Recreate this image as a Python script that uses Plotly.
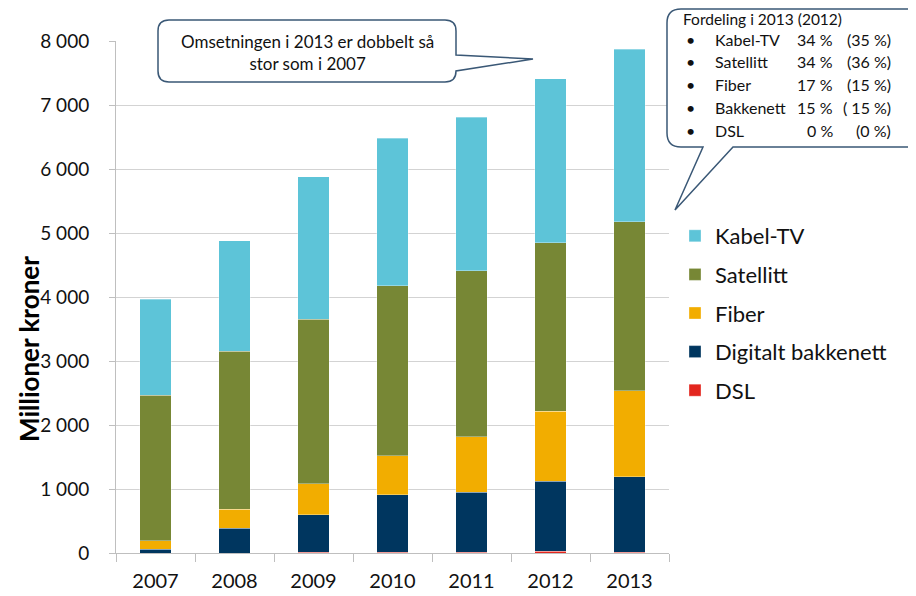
import plotly.graph_objects as go

# ---------------- data ----------------
years = ["2007", "2008", "2009", "2010", "2011", "2012", "2013"]
dsl = [0, 0, 8, 8, 15, 25, 15]
bakkenett = [58, 386, 586, 903, 938, 1100, 1178]
fiber = [132, 297, 489, 610, 865, 1089, 1343]
satellitt = [2274, 2473, 2573, 2656, 2593, 2635, 2636]
kabel_tv = [1500, 1724, 2224, 2302, 2396, 2562, 2698]

series_names = ["DSL", "Digitalt bakkenett", "Fiber", "Satellitt", "Kabel-TV"]
series_values = [dsl, bakkenett, fiber, satellitt, kabel_tv]
series_colors = ["#E3261E", "#00365F", "#F2AD00", "#778735", "#5DC4D8"]
legend_ranks = [5, 4, 3, 2, 1]

ytick_vals = [0, 1000, 2000, 3000, 4000, 5000, 6000, 7000, 8000]
ytick_text = ["0", "1 000", "2 000", "3 000", "4 000", "5 000", "6 000", "7 000", "8 000"]

y_title = "Millioner kroner"
note_text = "Omsetningen i 2013 er dobbelt så<br>stor som i 2007"
fordeling_title = "Fordeling i 2013 (2012)"
fordeling_names = ["Kabel-TV", "Satellitt", "Fiber", "Bakkenett", "DSL"]
share_2013 = ["34 %", "34 %", "17 %", "15 %", "0 %"]
share_2012 = ["(35 %)", "(36 %)", "(15 %)", "( 15 %)", "(0 %)"]

# ---------------- layout geometry (page pixels) ----------------
OFF = 8                      # default body margin of the html page
W, H = 916 - OFF, 596 - OFF  # figure size
L, R, T, B = 116, 669, 41, 553   # plot area in page pixels
FONT = "Lato, 'Open Sans', sans-serif"
EDGE = "#3A5876"


def px(x):
    return (x - L) / (R - L)


def py(y):
    return (B - y) / (B - T)


def path_from(points):
    out = []
    for cmd, pts in points:
        coords = " ".join(f"{px(x):.5f},{py(y):.5f}" for x, y in pts)
        out.append(f"{cmd} {coords}")
    return " ".join(out) + " Z"


fig = go.Figure()
for name, vals, col, rk in zip(series_names, series_values, series_colors, legend_ranks):
    fig.add_trace(go.Bar(
        x=years, y=vals, name=name, legendgroup=name, legendrank=rk,
        marker=dict(color=col, line=dict(width=0.6, color="rgba(255,255,255,0.55)")),
    ))

# small callout
x0, x1, y0, y1, r = 158, 456, 20, 82, 11
small = path_from([
    ("M", [(x0 + r, y0)]), ("L", [(x1 - r, y0)]), ("Q", [(x1, y0), (x1, y0 + r)]),
    ("L", [(x1, 55)]), ("L", [(533, 59)]), ("L", [(x1, 71)]),
    ("Q", [(x1, y1), (x1 - r, y1)]), ("L", [(x0 + r, y1)]),
    ("Q", [(x0, y1), (x0, y1 - r)]), ("L", [(x0, y0 + r)]),
    ("Q", [(x0, y0), (x0 + r, y0)]),
])
# big callout
bx0, bx1, by0, by1, br = 667, 945, 9, 147, 14
big = path_from([
    ("M", [(bx0 + br, by0)]), ("L", [(bx1 - br, by0)]), ("Q", [(bx1, by0), (bx1, by0 + br)]),
    ("L", [(bx1, by1 - br)]), ("Q", [(bx1, by1), (bx1 - br, by1)]),
    ("L", [(733, by1)]), ("L", [(675, 210)]), ("L", [(703, by1)]),
    ("L", [(bx0 + br, by1)]), ("Q", [(bx0, by1), (bx0, by1 - br)]),
    ("L", [(bx0, by0 + br)]), ("Q", [(bx0, by0), (bx0 + br, by0)]),
])
shapes = [
    dict(type="path", path=small, xref="paper", yref="paper", fillcolor="white",
         line=dict(color=EDGE, width=1.5), layer="above"),
    dict(type="path", path=big, xref="paper", yref="paper", fillcolor="white",
         line=dict(color=EDGE, width=1.5), layer="above"),
]

annotations = [
    dict(text=note_text, x=px(307), y=py(52), xref="paper", yref="paper",
         xanchor="center", yanchor="middle", showarrow=False, align="center",
         font=dict(family=FONT, size=17, color="#111")),
    dict(text=f"<b>{y_title}</b>", x=px(29), y=py(349), xref="paper", yref="paper",
         xanchor="center", yanchor="middle", showarrow=False, textangle=-90,
         font=dict(family=FONT, size=26, color="#000")),
    dict(text=fordeling_title, x=px(682), y=py(19), xref="paper", yref="paper",
         xanchor="left", yanchor="middle", showarrow=False, borderpad=0,
         font=dict(family=FONT, size=15.5, color="#111")),
]
row_y = [39, 61, 84, 107, 130]
for yy, nm, a, b in zip(row_y, fordeling_names, share_2013, share_2012):
    for txt, xx, anc in [("•", 684, "left"), (nm, 713, "left"), (a, 835, "right"), (b, 893, "right")]:
        annotations.append(dict(text=txt, x=px(xx), y=py(yy), xref="paper", yref="paper",
                                xanchor=anc, yanchor="middle", showarrow=False,
                                font=dict(family=FONT, size=16, color="#111")))

fig.update_layout(
    width=W, height=H,
    margin=dict(l=L - OFF, r=W - (R - OFF), t=T - OFF, b=H - (B - OFF), pad=0),
    paper_bgcolor="white", plot_bgcolor="white",
    barmode="stack", bargap=0.6,
    font=dict(family=FONT, color="#111"),
    showlegend=True,
    legend=dict(traceorder="grouped", tracegroupgap=7,
                x=px(675), y=py(215), xanchor="left", yanchor="top",
                font=dict(family=FONT, size=22, color="#111"),
                bgcolor="rgba(0,0,0,0)", itemclick=False, itemdoubleclick=False),
    xaxis=dict(type="category", tickson="boundaries", ticks="outside", ticklen=8,
               tickcolor="#BFBFBF", showline=True, linecolor="#BFBFBF", linewidth=1,
               showgrid=False, tickfont=dict(family=FONT, size=20, color="#111"),
               ticklabelstandoff=10, automargin=False),
    yaxis=dict(range=[0, 8000], tickvals=ytick_vals, ticktext=ytick_text,
               showgrid=True, gridcolor="#D3D3D3", gridwidth=1, zeroline=False,
               ticks="outside", ticklen=6, tickcolor="#BFBFBF", showline=True,
               linecolor="#BFBFBF", linewidth=1, automargin=False,
               tickfont=dict(family=FONT, size=19, color="#111"), ticklabelstandoff=16),
    shapes=shapes, annotations=annotations,
)

fig.write_html("out.html")
